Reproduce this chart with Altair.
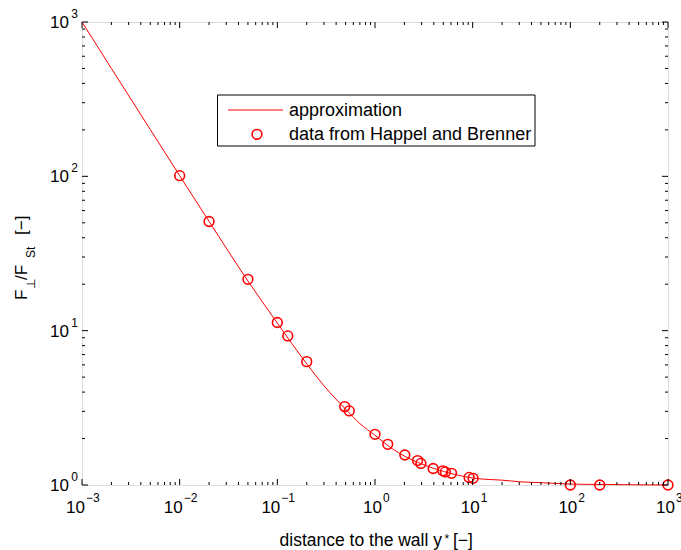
import altair as alt
import pandas as pd

# ---------------- data ----------------
line_x = [0.001, 0.002, 0.005, 0.01, 0.02, 0.05, 0.1, 0.2, 0.3, 0.5, 0.7, 1.0, 1.5, 2.0,
          3.0, 4.0, 5.0, 7.0, 10.0, 15.0, 20.0, 30.0, 50.0, 100.0, 200.0, 500.0, 1000.0]
line_y = [1000, 500, 201, 101, 51, 21, 11.2, 6.1, 4.4, 3.1, 2.5, 2.1, 1.72, 1.54,
          1.37, 1.28, 1.225, 1.16, 1.11, 1.085, 1.075, 1.05, 1.035, 1.015, 1.008, 1.003, 1.0]

pts_x = [0.01, 0.02, 0.05, 0.1, 0.128, 0.2, 0.49, 0.545, 1.0, 1.35, 2.02, 2.73, 2.95,
         3.94, 4.95, 5.25, 6.08, 9.2, 10.1, 100, 200, 1000]
pts_y = [101, 51, 21.5, 11.3, 9.25, 6.3, 3.22, 3.02, 2.13, 1.835, 1.565, 1.44, 1.38,
         1.28, 1.235, 1.215, 1.19, 1.12, 1.105, 1.0, 1.0, 1.0]

x_exps = [-3, -2, -1, 0, 1, 2, 3]
y_exps = [0, 1, 2, 3]
minor_mult = [2, 3, 4, 5, 6, 7, 8, 9]

legend_labels = ["approximation", "data from Happel and Brenner"]
x_title = ["distance to the wall y", "*", "[\u2212]"]
y_title = ["F", "\u22a5", "/F", "St", "[\u2212]"]

# ---------------- layout ----------------
W, H = 586, 463
FONT = "Liberation Sans"
RED = "#ff0000"

xs = alt.Scale(type="log", domain=[1e-3, 1e3])
ys = alt.Scale(type="log", domain=[1, 1e3])

line_df = pd.DataFrame({"x": line_x, "y": line_y})
pts_df = pd.DataFrame({"x": pts_x, "y": pts_y})
annot = pd.DataFrame({"d": [0]})

X = alt.X("x:Q", scale=xs, axis=None)
Y = alt.Y("y:Q", scale=ys, axis=None)

line = alt.Chart(line_df).mark_line(color=RED, strokeWidth=1, interpolate="monotone").encode(x=X, y=Y)
points = alt.Chart(pts_df).mark_point(shape="circle", filled=False, color=RED, size=95,
                                      strokeWidth=1.6, opacity=1).encode(x=X, y=Y)

# tick positions
xmaj = pd.DataFrame({"v": [10.0 ** k for k in x_exps]})
xmin = pd.DataFrame({"v": [m * 10.0 ** k for k in x_exps[:-1] for m in minor_mult]})
ymaj = pd.DataFrame({"v": [10.0 ** k for k in y_exps]})
ymin = pd.DataFrame({"v": [m * 10.0 ** k for k in y_exps[:-1] for m in minor_mult]})

MAJ, MIN = 6, 3
tick_layers = []
for df, L in [(xmaj, MAJ), (xmin, MIN)]:
    for y0, y1 in [(H, H - L), (0, L)]:
        tick_layers.append(
            alt.Chart(df).mark_rule(color="black", strokeWidth=1).encode(
                x=alt.X("v:Q", scale=xs, axis=None), y=alt.value(y0), y2=alt.value(y1)))
for df, L in [(ymaj, MAJ), (ymin, MIN)]:
    for x0, x1 in [(0, L), (W, W - L)]:
        tick_layers.append(
            alt.Chart(df).mark_rule(color="black", strokeWidth=1).encode(
                y=alt.Y("v:Q", scale=ys, axis=None), x=alt.value(x0), x2=alt.value(x1)))

# x tick labels: "10" + superscript exponent
xlab = pd.DataFrame({"k": x_exps})
xbase = alt.Chart(xlab).transform_calculate(
    v="pow(10, datum.k)",
    e="datum.k < 0 ? '\u2212' + (-datum.k) : '' + datum.k")
x_labels = []
for cond, dxb, dxe in [("datum.k < 0", 3, 4), ("datum.k >= 0", 7, 8)]:
    b = xbase.transform_filter(cond)
    x_labels.append(b.mark_text(text="10", align="right", baseline="alphabetic", font=FONT,
                                fontSize=17, dx=dxb, color="black").encode(
        x=alt.X("v:Q", scale=xs, axis=None), y=alt.value(H + 28)))
    x_labels.append(b.mark_text(align="left", baseline="alphabetic", font=FONT,
                                fontSize=12, dx=dxe, color="black").encode(
        x=alt.X("v:Q", scale=xs, axis=None), y=alt.value(H + 16.5), text="e:N"))

ylab = pd.DataFrame({"k": y_exps})
ybase = alt.Chart(ylab).transform_calculate(v="pow(10, datum.k)", e="'' + datum.k")
y_labels = [
    ybase.mark_text(text="10", align="right", baseline="alphabetic", font=FONT, fontSize=17,
                    dy=6, color="black").encode(
        y=alt.Y("v:Q", scale=ys, axis=None), x=alt.value(-13)),
    ybase.mark_text(align="right", baseline="alphabetic", font=FONT, fontSize=12,
                    dy=-4, color="black").encode(
        y=alt.Y("v:Q", scale=ys, axis=None), x=alt.value(-4), text="e:N"),
]

def txt(t, x, y, size=17, align="left", angle=0):
    kw = dict(text=t, align=align, baseline="alphabetic", font=FONT, fontSize=size, color="black")
    if angle:
        kw["angle"] = angle
    return alt.Chart(annot).mark_text(**kw).encode(x=alt.value(x), y=alt.value(y))

# axis titles
titles = [
    txt(x_title[0], 360, 523.5, size=17.5, align="right"),
    txt(x_title[1], 362.5, 521, size=12),
    txt(x_title[2], 371, 523.5, size=17.5),
    txt(y_title[0], -55, 278, angle=270),
    txt(y_title[1], -47, 267, size=12, angle=270),
    txt(y_title[2], -55, 258, angle=270),
    txt(y_title[3], -47, 236, size=12, angle=270),
    txt(y_title[4], -55, 213, angle=270),
]

# legend
legend = [
    alt.Chart(annot).mark_rect(fill="white", stroke="black", strokeWidth=1).encode(
        x=alt.value(135.5), x2=alt.value(453), y=alt.value(73), y2=alt.value(124)),
    alt.Chart(annot).mark_rule(color=RED, strokeWidth=1).encode(
        x=alt.value(146), x2=alt.value(201), y=alt.value(88)),
    alt.Chart(annot).mark_point(shape="circle", filled=False, color=RED, size=95,
                                strokeWidth=1.6, opacity=1).encode(
        x=alt.value(175), y=alt.value(112.3)),
    txt(legend_labels[0], 207, 93.5, size=18),
    txt(legend_labels[1], 207, 118, size=18),
]

chart = alt.layer(line, points, *tick_layers, *x_labels, *y_labels, *titles, *legend).properties(
    width=W, height=H,
    autosize=alt.AutoSizeParams(type="none"),
    padding={"left": 82, "top": 22, "right": 13, "bottom": 65},
).configure_view(stroke="black", strokeWidth=1).configure(background="white")

chart.save("out.html", embed_options={"renderer": "svg", "actions": False})
